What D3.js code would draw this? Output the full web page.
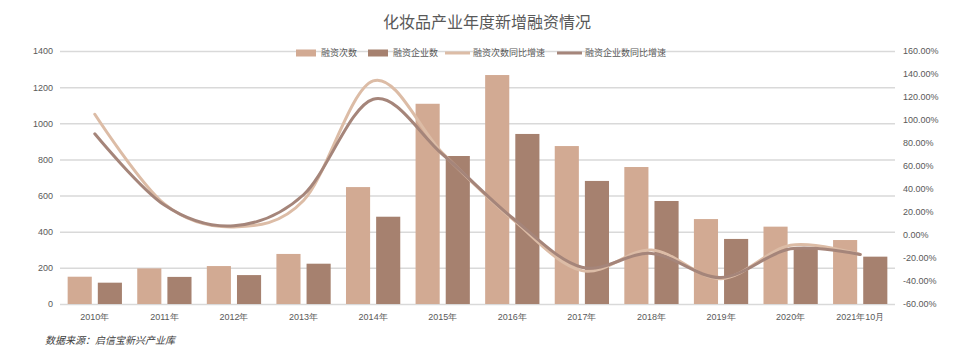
<!DOCTYPE html>
<html>
<head>
<meta charset="utf-8">
<script src="https://cdn.jsdelivr.net/npm/d3@7"></script>
<style>
  body { margin: 0; background: #fff; }
  svg { display: block; font-family: "Noto Sans CJK SC", "Noto Sans", sans-serif; }
</style>
</head>
<body>
<div id="chart"></div>
<script>
// catégories et séries
const categories = ["2010年", "2011年", "2012年", "2013年", "2014年", "2015年",
    "2016年", "2017年", "2018年", "2019年", "2020年", "2021年10月"];
const financingCount = [151, 197, 210, 277, 647, 1108, 1267, 874, 758, 470, 428, 354];
const companyCount = [118, 150, 160, 223, 483, 819, 941, 681, 570, 360, 314, 262];
const countGrowth = [105, 27, 7, 30, 134, 71, 14, -31, -13, -38, -9, -17];
const companyGrowth = [88, 26, 8, 35, 118, 70, 15, -28, -16, -37, -12, -17];
const leftTicks = [0, 200, 400, 600, 800, 1000, 1200, 1400];
const rightTicks = [-60, -40, -20, 0, 20, 40, 60, 80, 100, 120, 140, 160];

const barNames = ["融资次数", "融资企业数"];
const lineNames = ["融资次数同比增速", "融资企业数同比增速"];
const barColors = ["#d2aa93", "#a6816f"];
const lineColors = ["#dcbca6", "#a5857a"];

const W = 975, H = 352;
const plotLeft = 60, plotRight = 895, plotTop = 51, plotBottom = 304;

const svg = d3.select("#chart").append("svg")
    .attr("width", W).attr("height", H);

const x0 = d3.scaleBand().domain(categories).range([plotLeft, plotRight])
    .paddingInner(0.22).paddingOuter(0.11);
const x1 = d3.scaleBand().domain([0, 1]).range([0, x0.bandwidth()]).paddingInner(0.2);
const xc = d3.scaleBand().domain(categories).range([plotLeft, plotRight]);

const yL = d3.scaleLinear().domain([0, 1400]).range([plotBottom, plotTop]);
const yR = d3.scaleLinear().domain([-60, 160]).range([plotBottom, plotTop]);

// titre
svg.append("text")
    .attr("x", 487).attr("y", 28)
    .attr("text-anchor", "middle")
    .attr("font-size", 16)
    .attr("fill", "#595959")
    .text("化妆品产业年度新增融资情况");

// grille
svg.append("g").selectAll("line")
    .data(leftTicks)
    .join("line")
    .attr("x1", plotLeft).attr("x2", plotRight)
    .attr("y1", d => yL(d) + 0.5).attr("y2", d => yL(d) + 0.5)
    .attr("stroke", "#d9d9d9")
    .attr("stroke-width", 1.5);

// axe gauche
const axL = svg.append("g")
    .attr("transform", `translate(${plotLeft},0)`)
    .call(d3.axisLeft(yL).tickValues(leftTicks).tickSize(0).tickPadding(7)
        .tickFormat(d3.format("d")));
axL.select(".domain").remove();
axL.selectAll("text").attr("font-size", 9).attr("fill", "#595959");

// axe droit
const axR = svg.append("g")
    .attr("transform", `translate(${plotRight},0)`)
    .call(d3.axisRight(yR).tickValues(rightTicks).tickSize(0).tickPadding(8)
        .tickFormat(d => d.toFixed(2) + "%"));
axR.select(".domain").remove();
axR.selectAll("text").attr("font-size", 9).attr("fill", "#595959");

// axe bas
const axB = svg.append("g")
    .attr("transform", `translate(0,${plotBottom})`)
    .call(d3.axisBottom(xc).tickSize(0).tickPadding(10));
axB.select(".domain").remove();
axB.selectAll("text").attr("font-size", 9).attr("fill", "#595959");

// barres
[financingCount, companyCount].forEach((vals, s) => {
    svg.append("g").selectAll("rect")
        .data(vals)
        .join("rect")
        .attr("x", (d, i) => x0(categories[i]) + x1(s))
        .attr("width", x1.bandwidth())
        .attr("y", d => yL(d))
        .attr("height", d => yL(0) - yL(d))
        .attr("fill", barColors[s]);
});

// courbes lissées
const line = d3.line()
    .x((d, i) => xc(categories[i]) + xc.bandwidth() / 2)
    .y(d => yR(d))
    .curve(d3.curveCardinal.tension(0));

[countGrowth, companyGrowth].forEach((vals, s) => {
    svg.append("path")
        .datum(vals)
        .attr("fill", "none")
        .attr("stroke", lineColors[s])
        .attr("stroke-width", 3)
        .attr("stroke-linecap", "round")
        .attr("d", line);
});

// légende
const legendItems = [
    { name: barNames[0], color: barColors[0], type: "bar", x: 296 },
    { name: barNames[1], color: barColors[1], type: "bar", x: 368 },
    { name: lineNames[0], color: lineColors[0], type: "line", x: 445 },
    { name: lineNames[1], color: lineColors[1], type: "line", x: 557 }
];
const legend = svg.append("g").attr("transform", "translate(0,53)");
legendItems.forEach(it => {
    if (it.type === "bar") {
        legend.append("rect")
            .attr("x", it.x).attr("y", -3.5)
            .attr("width", 20).attr("height", 7)
            .attr("fill", it.color);
    } else {
        legend.append("line")
            .attr("x1", it.x).attr("x2", it.x + 25)
            .attr("y1", 0).attr("y2", 0)
            .attr("stroke", it.color)
            .attr("stroke-width", 3);
    }
    legend.append("text")
        .attr("x", it.x + (it.type === "bar" ? 25 : 28))
        .attr("y", 0)
        .attr("dy", "0.35em")
        .attr("font-size", 9)
        .attr("fill", "#595959")
        .text(it.name);
});

// source
svg.append("text")
    .attr("x", 45).attr("y", 344)
    .attr("font-size", 10)
    .attr("font-style", "italic")
    .attr("fill", "#404040")
    .text("数据来源：启信宝新兴产业库");
</script>
</body>
</html>
